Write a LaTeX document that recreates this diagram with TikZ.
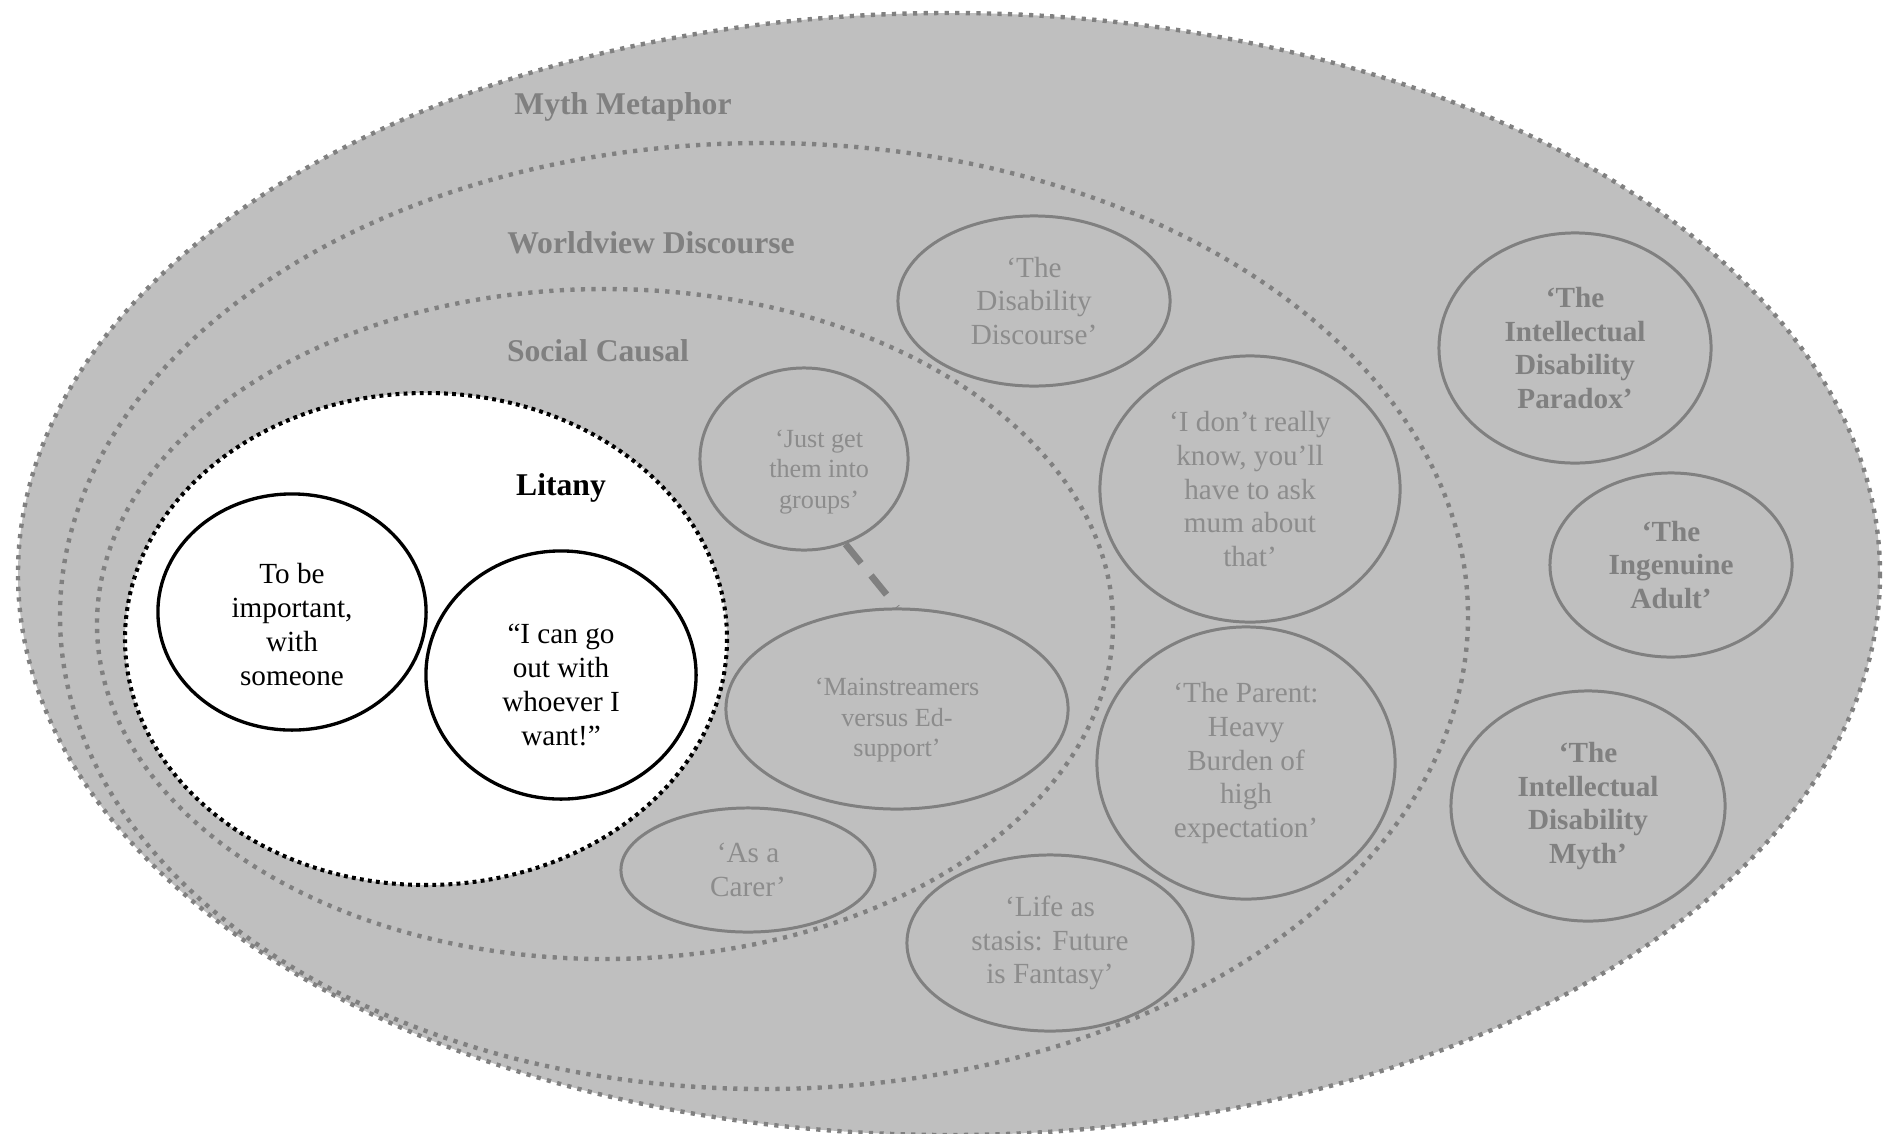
\documentclass[tikz,border=0pt]{standalone}
\usepackage{fontspec}
\setmainfont{Liberation Serif}
\usetikzlibrary{shapes.geometric}

\definecolor{ringfill}{HTML}{BFBFBF}
\definecolor{ringline}{HTML}{808080}
\definecolor{softtext}{HTML}{8C8C8C}

% stacked lines set a little below the middle of their ellipse
\newcommand\sunktext[2]{\raisebox{-#1}[\height][\depth]{\begin{tabular}{@{}c@{}}#2\end{tabular}}}

\tikzset{
 ring/.style={draw=ringline,line width=1.25pt,dash pattern=on 1.2pt off 1.8pt},
 litanyring/.style={draw=black,fill=white,line width=1.15pt,dash pattern=on 1.1pt off 1.2pt},
 tier/.style={font=\fontsize{9}{10.8}\selectfont\bfseries,text=ringline},
 theme/.style={ellipse,draw=ringline,line width=.85pt,inner sep=0pt,align=center,
   text=softtext,font=\fontsize{8.3}{9.6}\selectfont},
 smalltheme/.style={theme,font=\fontsize{7.45}{8.7}\selectfont},
 named/.style={theme,text=ringline,font=\fontsize{8.3}{9.6}\selectfont\bfseries},
 voice/.style={theme,draw=black,line width=.95pt,text=black},
 link/.style={draw=ringline,line width=1.9pt,dash pattern=on 7pt off 4.5pt},
}

\begin{document}
\begin{tikzpicture}[x=.01cm,y=-.01cm]
 \useasboundingbox (0,0) rectangle (1883,1133);
 % nested rings, outermost first
 \draw[ring,fill=ringfill] (949,574) ellipse [x radius=931,y radius=561];
 \draw[ring] (764,616) ellipse [x radius=704,y radius=473];
 \draw[ring] (605,624) ellipse [x radius=508,y radius=335];
 \draw[litanyring] (426,639) ellipse [x radius=301,y radius=246];
 % ring titles
 \node[tier] (mythlab) at (623,107) {Myth Metaphor};
 \node[tier] (worldlab) at (651,243) {Worldview Discourse};
 \node[tier] (sociallab) at (598,351) {Social Causal};
 \node[tier,text=black] (litanylab) at (561,488) {Litany};
 % litany
 \node[voice,minimum width=2.68cm,minimum height=2.36cm] (tobe) at (292,612)
   {\sunktext{4.5pt}{To be\\important,\\with\\someone}};
 \node[voice,minimum width=2.70cm,minimum height=2.48cm] (cango) at (561,675)
   {\sunktext{3.6pt}{“I can go\\out with\\whoever I\\want!”}};
 % social causal
 \node[smalltheme,minimum width=2.08cm,minimum height=1.82cm] (just) at (804,459)
   {\hspace*{8.6pt}\sunktext{3.6pt}{‘Just get\\them into\\groups’}};
 \node[smalltheme,minimum width=3.42cm,minimum height=2.00cm] (main) at (897,709)
   {\sunktext{3.2pt}{‘Mainstreamers\\versus Ed-\\support’}};
 \node[theme,minimum width=2.54cm,minimum height=1.24cm] (carer) at (748,870) {‘As a\\Carer’};
 \draw[link] (just.-64) -- (main.90);
 % worldview discourse
 \node[theme,minimum width=2.72cm,minimum height=1.70cm] (discourse) at (1034,301) {‘The\\Disability\\Discourse’};
 \node[theme,minimum width=3.00cm,minimum height=2.66cm] (dontknow) at (1250,489) {‘I don’t really\\know, you’ll\\have to ask\\mum about\\that’};
 \node[theme,minimum width=2.98cm,minimum height=2.72cm] (parent) at (1246,763) {‘The Parent:\\Heavy\\Burden of\\high\\expectation’};
 \node[theme,minimum width=2.86cm,minimum height=1.76cm] (stasis) at (1050,943) {‘Life as\\stasis: Future\\is Fantasy’};
 % myth metaphor
 \node[named,minimum width=2.72cm,minimum height=2.30cm] (paradox) at (1575,348) {‘The\\Intellectual\\Disability\\Paradox’};
 \node[named,minimum width=2.42cm,minimum height=1.84cm] (ingenuine) at (1671,565) {‘The\\Ingenuine\\Adult’};
 \node[named,minimum width=2.74cm,minimum height=2.30cm] (idmyth) at (1588,806) {‘The\\Intellectual\\Disability\\Myth’};
\end{tikzpicture}
\end{document}
